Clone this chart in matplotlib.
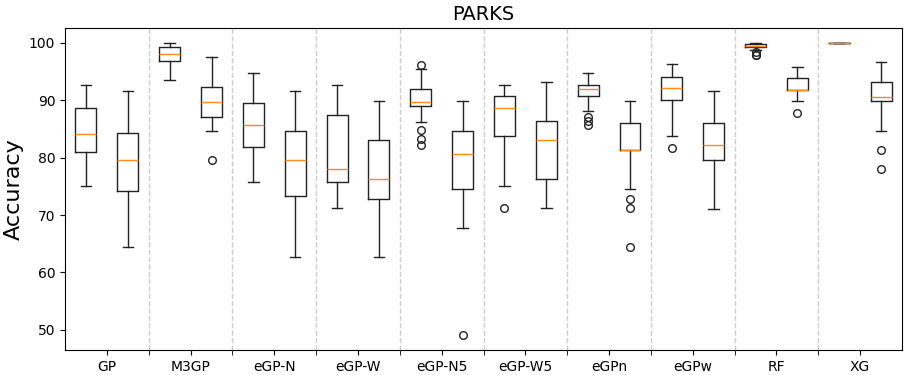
import matplotlib
matplotlib.use("Agg")
import matplotlib.pyplot as plt
import numpy as np

methods = ["GP", "M3GP", "eGP-N", "eGP-W", "eGP-N5", "eGP-W5", "eGPn", "eGPw", "RF", "XG"]

# Training accuracy box statistics per method
train_whislo = [75.0, 93.6, 75.7, 71.3, 86.15, 75.0, 88.2, 83.7, 98.8, 100.0]
train_q1     = [81.05, 96.8, 81.8, 75.7, 89.05, 83.8, 90.8, 90.0, 99.35, 100.0]
train_med    = [84.1, 98.0, 85.6, 78.0, 89.6, 88.6, 91.95, 92.2, 99.5, 100.0]
train_q3     = [88.7, 99.2, 89.5, 87.5, 92.0, 90.7, 92.7, 94.1, 99.8, 100.0]
train_whishi = [92.6, 100.0, 94.8, 92.6, 95.5, 92.6, 94.7, 96.3, 100.0, 100.0]
train_fliers = [[], [], [], [], [96.2, 84.75, 83.3, 82.15], [71.3],
                [87.0, 86.3, 85.6], [81.6], [98.4, 97.9, 97.8], []]

# Test accuracy box statistics per method
test_whislo = [64.4, 84.6, 62.7, 62.7, 67.7, 71.15, 74.55, 71.1, 89.85, 84.7]
test_q1     = [74.1, 87.1, 73.3, 72.8, 74.55, 76.2, 81.3, 79.6, 91.8, 89.85]
test_med    = [79.55, 89.7, 79.55, 76.2, 80.6, 83.1, 81.3, 82.2, 91.8, 90.55]
test_q3     = [84.2, 92.35, 84.6, 83.1, 84.6, 86.4, 86.0, 86.0, 93.8, 93.15]
test_whishi = [91.6, 97.45, 91.6, 89.85, 89.85, 93.2, 89.85, 91.6, 95.8, 96.6]
test_fliers = [[], [79.5], [], [], [49.1], [], [72.8, 71.15, 64.4], [], [87.8], [81.3, 78.0]]


def make_stats(lo, q1, med, q3, hi, fl):
    return [dict(whislo=a, q1=b, med=c, q3=d, whishi=e, fliers=f)
            for a, b, c, d, e, f in zip(lo, q1, med, q3, hi, fl)]


train_stats = make_stats(train_whislo, train_q1, train_med, train_q3, train_whishi, train_fliers)
test_stats = make_stats(test_whislo, test_q1, test_med, test_q3, test_whishi, test_fliers)

fig = plt.figure(figsize=(9.07, 3.75), dpi=100)
ax = fig.add_axes([0.0717, 0.0667, 0.9228, 0.8583])

centers = np.arange(1, len(methods) + 1)
offset = 0.25
width = 0.25

line_col = "#222222"
style = dict(
    boxprops=dict(color=line_col),
    whiskerprops=dict(color=line_col),
    capprops=dict(color=line_col),
    medianprops=dict(color="#ff8c1a", zorder=3),
    flierprops=dict(marker="o", markerfacecolor="none", markeredgecolor=line_col, markersize=5.5),
)

ax.bxp(train_stats, positions=centers - offset, widths=width, manage_ticks=False, **style)
ax.bxp(test_stats, positions=centers + offset, widths=width, manage_ticks=False, **style)

for sep in centers[:-1] + 0.5:
    ax.axvline(sep, color="#cccccc", linestyle="--", linewidth=1.0, zorder=0)

ax.set_xlim(0.5, len(methods) + 0.5)
ax.set_xticks(centers)
ax.set_xticklabels(methods, fontsize=10)
ax.set_xticks(centers[:-1] + 0.5, minor=True)
ax.tick_params(axis="x", which="minor", length=3.5)
ax.tick_params(axis="y", labelsize=10)
ax.set_yticks([50, 60, 70, 80, 90, 100])
ax.set_ylim(46.5, 102.55)

ax.set_title("PARKS", fontsize=14)
ax.set_ylabel("Accuracy", fontsize=16)

fig.savefig("out.png", dpi=100)
